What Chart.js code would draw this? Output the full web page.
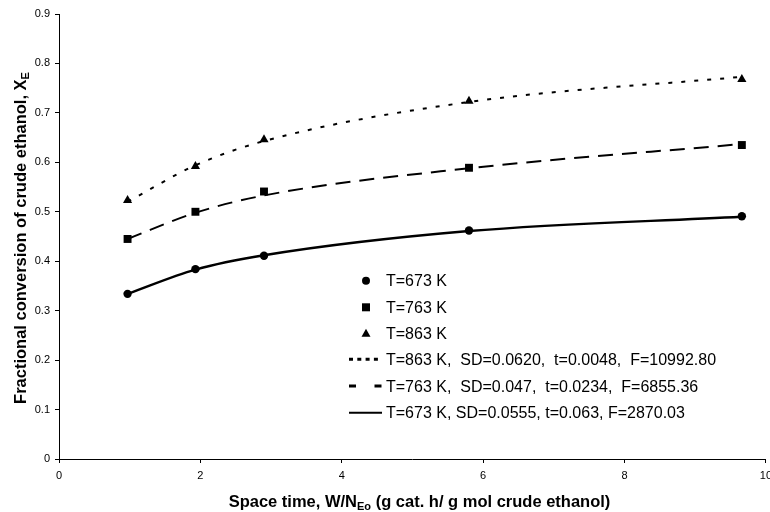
<!DOCTYPE html>
<html>
<head>
<meta charset="utf-8">
<script src="https://cdn.jsdelivr.net/npm/chart.js@4.4.1/dist/chart.umd.min.js"></script>
<style>
  html, body { margin: 0; padding: 0; background: #fff; overflow: hidden; }
  #wrap { position: relative; width: 778px; height: 512px; }
</style>
</head>
<body>
<div id="wrap"><canvas id="chart"></canvas></div>
<script>
// measured points (space time vs fractional conversion)
const spaceTime = [0.97, 1.93, 2.9, 5.8, 9.66];
const conv673 = [0.334, 0.384, 0.411, 0.462, 0.491];
const conv763 = [0.445, 0.500, 0.541, 0.589, 0.635];
const conv863 = [0.523, 0.592, 0.646, 0.724, 0.768];
// model fit curves at the same space times
const fit673 = [0.334, 0.383, 0.412, 0.461, 0.490];
const fit763 = [0.445, 0.498, 0.533, 0.588, 0.637];
const fit863 = [0.520, 0.594, 0.643, 0.722, 0.773];

const xTicks = [0, 2, 4, 6, 8, 10];
const yTicks = [0, 0.1, 0.2, 0.3, 0.4, 0.5, 0.6, 0.7, 0.8, 0.9];

const pointLabels = ['T=673 K', 'T=763 K', 'T=863 K'];
const fitLabels = [
  'T=863 K,  SD=0.0620,  t=0.0048,  F=10992.80',
  'T=763 K,  SD=0.047,  t=0.0234,  F=6855.36',
  'T=673 K, SD=0.0555, t=0.063, F=2870.03'
];
const xTitle = ['Space time, W/N', 'Eo', ' (g cat. h/ g mol crude ethanol)'];
const yTitle = ['Fractional conversion of crude ethanol, X', 'E'];

const FONT = '"Liberation Sans", Arial, sans-serif';
const pairs = ys => spaceTime.map((x, i) => ({ x: x, y: ys[i] }));

function pointSet(label, ys, style, r) {
  return {
    label: label, data: pairs(ys), showLine: false, order: 0,
    pointStyle: style, pointRadius: r, pointHoverRadius: r,
    backgroundColor: '#000', borderColor: '#000', borderWidth: 0
  };
}
function fitSet(label, ys, dash, w) {
  return {
    label: label, data: pairs(ys), showLine: true, order: 1,
    pointRadius: 0, borderColor: '#000', borderWidth: w, borderDash: dash,
    cubicInterpolationMode: 'monotone', fill: false
  };
}

// draws text with a subscript part, centred at cx on baseline by
function subText(ctx, parts, cx, by) {
  const big = 'bold 16.5px ' + FONT, small = 'bold 11px ' + FONT;
  let total = 0;
  const widths = parts.map((t, i) => {
    ctx.font = i % 2 ? small : big;
    const w = ctx.measureText(t).width;
    total += w;
    return w;
  });
  let x = cx - total / 2;
  ctx.textAlign = 'left';
  ctx.textBaseline = 'alphabetic';
  parts.forEach((t, i) => {
    ctx.font = i % 2 ? small : big;
    ctx.fillText(t, x, by + (i % 2 ? 3.5 : 0));
    x += widths[i];
  });
}

const overlay = {
  id: 'overlay',
  afterDraw(chart) {
    const ctx = chart.ctx;
    ctx.save();
    ctx.fillStyle = '#000';
    ctx.strokeStyle = '#000';

    // axis titles
    subText(ctx, xTitle, 419.5, 506.5);
    ctx.save();
    ctx.translate(25.5, 238);
    ctx.rotate(-Math.PI / 2);
    subText(ctx, yTitle, 0, 0);
    ctx.restore();

    // legend
    const rows = [280.7, 307.3, 333.3, 359.3, 386, 412.7];
    const mx = 366, lx0 = 349, lx1 = 382, tx = 386;
    ctx.font = '16px ' + FONT;
    ctx.textAlign = 'left';
    ctx.textBaseline = 'alphabetic';
    pointLabels.forEach((lab, i) => {
      const y = rows[i];
      ctx.beginPath();
      if (i === 0) ctx.arc(mx, y, 4, 0, Math.PI * 2);
      else if (i === 1) ctx.rect(mx - 4, y - 4, 8, 8);
      else { ctx.moveTo(mx, y - 4.5); ctx.lineTo(mx + 4.5, y + 3.5); ctx.lineTo(mx - 4.5, y + 3.5); ctx.closePath(); }
      ctx.fill();
      ctx.fillText(lab, tx, y + 5.7);
    });
    const dashes = [[4, 4.3], [7, 18.5], []];
    fitLabels.forEach((lab, i) => {
      const y = rows[i + 3];
      ctx.beginPath();
      ctx.setLineDash(dashes[i]);
      ctx.lineWidth = i === 2 ? 2 : 3;
      ctx.moveTo(lx0, y);
      ctx.lineTo(lx1, y);
      ctx.stroke();
      ctx.setLineDash([]);
      ctx.fillText(lab, tx, y + 5.7);
    });
    ctx.restore();
  }
};

const tickFont = { family: FONT, size: 11 };

new Chart(document.getElementById('chart').getContext('2d'), {
  type: 'scatter',
  data: {
    datasets: [
      pointSet(pointLabels[0], conv673, 'circle', 4.2),
      pointSet(pointLabels[1], conv763, 'rect', 5.6),
      pointSet(pointLabels[2], conv863, 'triangle', 5.3),
      fitSet(fitLabels[0], fit863, [4, 9], 2),
      fitSet(fitLabels[1], fit763, [15, 9], 2),
      fitSet(fitLabels[2], fit673, [], 2.4)
    ]
  },
  options: {
    animation: false,
    responsive: true,
    maintainAspectRatio: false,
    devicePixelRatio: 1,
    layout: { padding: { top: 14, left: 0, right: 0, bottom: 0 } },
    plugins: { legend: { display: false }, tooltip: { enabled: false } },
    scales: {
      x: {
        type: 'linear', min: 0, max: 10,
        afterBuildTicks: s => { s.ticks = xTicks.map(v => ({ value: v })); },
        afterFit: s => { s.height = 53; },
        grid: { drawOnChartArea: false, tickLength: 4, color: '#000' },
        border: { color: '#000', width: 1 },
        ticks: { color: '#000', font: tickFont, padding: 6, maxRotation: 0 }
      },
      y: {
        type: 'linear', min: 0, max: 0.9,
        afterBuildTicks: s => { s.ticks = yTicks.map(v => ({ value: v })); },
        afterFit: s => { s.width = 59; },
        grid: { drawOnChartArea: false, tickLength: 4, color: '#000' },
        border: { color: '#000', width: 1 },
        ticks: { color: '#000', font: tickFont, padding: 5 }
      }
    }
  },
  plugins: [overlay]
});
</script>
</body>
</html>
